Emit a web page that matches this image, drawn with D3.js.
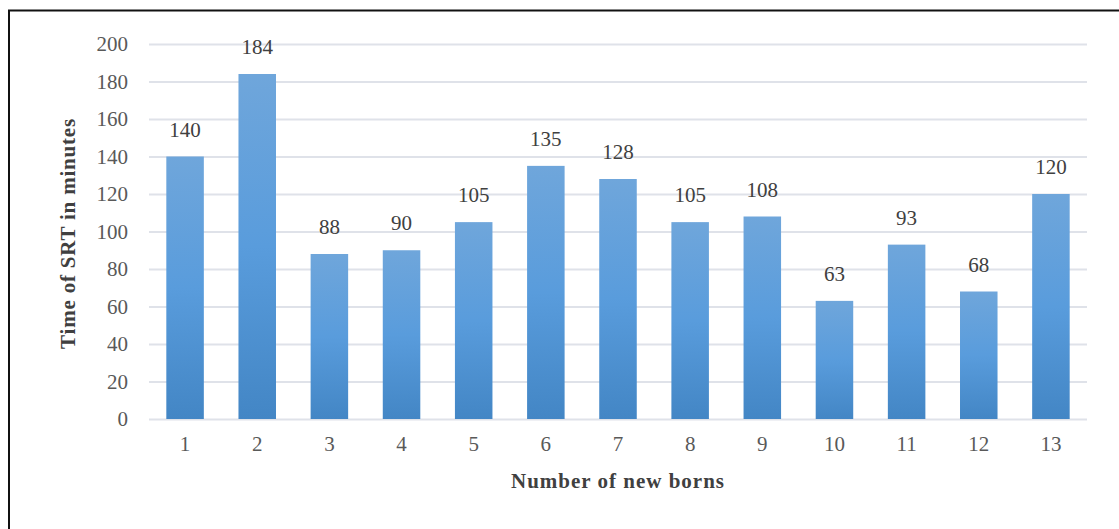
<!DOCTYPE html>
<html>
<head>
<meta charset="utf-8">
<script src="https://cdn.jsdelivr.net/npm/d3@7/dist/d3.min.js"></script>
<style>
  html, body { margin: 0; padding: 0; background: #ffffff; }
  svg { display: block; }
</style>
</head>
<body>
<svg id="chart" width="1119" height="529"></svg>
<script>
// Newborns and their SRT duration (minutes)
const categories = ["1","2","3","4","5","6","7","8","9","10","11","12","13"];
const srtMinutes = [140, 184, 88, 90, 105, 135, 128, 105, 108, 63, 93, 68, 120];
const yTicks = [0, 20, 40, 60, 80, 100, 120, 140, 160, 180, 200];
const xTitle = "Number of new borns";
const yTitle = "Time of SRT in minutes";

const svg = d3.select("#chart");
const font = "'Liberation Serif', 'Times New Roman', serif";

// Frame around the figure (top and left edges visible)
svg.append("path")
  .attr("d", "M9,529 L9,10.5 L1119,10.5")
  .attr("fill", "none")
  .attr("stroke", "#111")
  .attr("stroke-width", 2);

const plot = { left: 149, right: 1087, top: 44, bottom: 419 };

const x = d3.scaleBand()
  .domain(categories)
  .range([plot.left, plot.right])
  .paddingInner(0.48)
  .paddingOuter(0.24);

const y = d3.scaleLinear()
  .domain([0, 200])
  .range([plot.bottom, plot.top]);

// Bar gradient
const defs = svg.append("defs");
const grad = defs.append("linearGradient")
  .attr("id", "barGrad")
  .attr("x1", 0).attr("y1", 0).attr("x2", 0).attr("y2", 1);
grad.append("stop").attr("offset", "0%").attr("stop-color", "#6fa6db");
grad.append("stop").attr("offset", "50%").attr("stop-color", "#599cdc");
grad.append("stop").attr("offset", "100%").attr("stop-color", "#4386c5");

// Horizontal gridlines
const yAxis = d3.axisLeft(y)
  .tickValues(yTicks)
  .tickSize(-(plot.right - plot.left))
  .tickPadding(21);

const gy = svg.append("g")
  .attr("transform", `translate(${plot.left},0)`)
  .call(yAxis);
gy.select(".domain").remove();
gy.selectAll(".tick line")
  .attr("stroke", "#dfe2e9")
  .attr("stroke-width", 2);
gy.selectAll(".tick text")
  .attr("font-family", font)
  .attr("font-size", 21)
  .attr("fill", "#595959");

// Bars
svg.append("g").selectAll("rect")
  .data(srtMinutes)
  .join("rect")
  .attr("x", (d, i) => x(categories[i]))
  .attr("y", d => y(d))
  .attr("width", x.bandwidth())
  .attr("height", d => y(0) - y(d))
  .attr("fill", "url(#barGrad)");

// Value labels
svg.append("g").selectAll("text")
  .data(srtMinutes)
  .join("text")
  .attr("x", (d, i) => x(categories[i]) + x.bandwidth() / 2)
  .attr("y", d => y(d) - 20)
  .attr("text-anchor", "middle")
  .attr("font-family", font)
  .attr("font-size", 21)
  .attr("fill", "#404040")
  .text(d => d);

// Category axis
const xAxis = d3.axisBottom(x).tickSize(0).tickPadding(17);
const gx = svg.append("g")
  .attr("transform", `translate(0,${plot.bottom})`)
  .call(xAxis);
gx.select(".domain").remove();
gx.selectAll(".tick text")
  .attr("font-family", font)
  .attr("font-size", 21)
  .attr("fill", "#595959");

// Axis titles
svg.append("text")
  .attr("x", (plot.left + plot.right) / 2)
  .attr("y", 488)
  .attr("text-anchor", "middle")
  .attr("font-family", font)
  .attr("font-size", 21)
  .attr("font-weight", "bold")
  .attr("letter-spacing", 1)
  .attr("fill", "#404040")
  .text(xTitle);

svg.append("text")
  .attr("transform", `translate(75,${(plot.top + plot.bottom) / 2 + 2}) rotate(-90)`)
  .attr("text-anchor", "middle")
  .attr("font-family", font)
  .attr("font-size", 21)
  .attr("font-weight", "bold")
  .attr("letter-spacing", 0.8)
  .attr("fill", "#404040")
  .text(yTitle);
</script>
</body>
</html>
